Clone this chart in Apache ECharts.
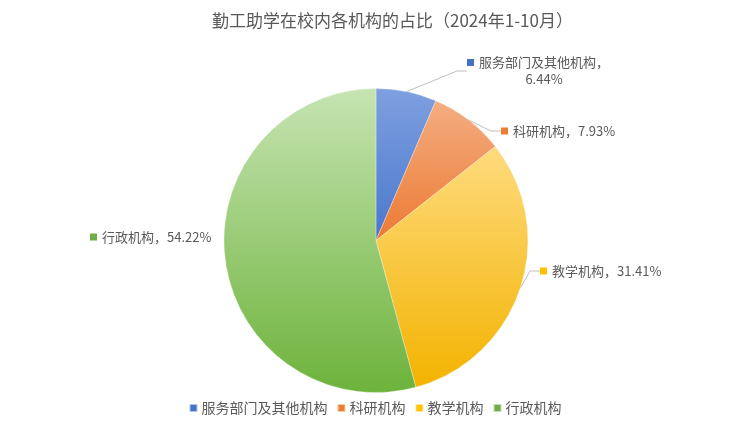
<!DOCTYPE html>
<html>
<head>
<meta charset="utf-8">
<script src="https://cdn.jsdelivr.net/npm/echarts@6/dist/echarts.min.js"></script>
<style>html,body{margin:0;padding:0;background:#fff}#c{width:750px;height:422px}</style>
</head>
<body>
<div id="c"></div>
<script>
const titleText = '勤工助学在校内各机构的占比（2024年1-10月）';
const categories = ['服务部门及其他机构', '科研机构', '教学机构', '行政机构'];
const shares = [6.44, 7.93, 31.41, 54.22];

const solidColors = ['#4472c4', '#ed7d31', '#ffc000', '#70ad47'];
const gradTop = ['#7fa0e0', '#f4ad82', '#fedb7e', '#c6e4b2'];
const gradBottom = ['#4a77cc', '#ec7a32', '#f3b300', '#6db33b'];
const labelPlace = [
  { x: 538, y: 71, align: 'center' },
  { x: 501, y: 131, align: 'left' },
  { x: 540, y: 271, align: 'left' },
  { x: 90, y: 237, align: 'left' }
];
const font = '"Noto Sans CJK SC", "Microsoft YaHei", sans-serif';
const textColor = '#595959';

const rich = { t: { fontSize: 13, color: textColor, fontFamily: font, lineHeight: 17 }, e: { width: 12, height: 7 } };
solidColors.forEach((c, i) => {
  rich['s' + i] = { width: 7, height: 7, backgroundColor: c, borderColor: c };
  rich['g' + i] = { width: 5, height: 7 };
});

const data = categories.map((name, i) => ({
  name,
  value: shares[i],
  itemStyle: {
    color: new echarts.graphic.LinearGradient(0, 0, 0, 1, [
      { offset: 0, color: gradTop[i] },
      { offset: 1, color: gradBottom[i] }
    ])
  },
  labelLine: { show: i !== 3 }
}));

const chart = echarts.init(document.getElementById('c'), null, { renderer: 'canvas' });
chart.setOption({
  backgroundColor: '#ffffff',
  animation: false,
  title: {
    text: titleText,
    left: 207,
    top: 7,
    textStyle: { fontSize: 17, fontWeight: 'normal', color: textColor, fontFamily: font }
  },
  legend: {
    bottom: 2,
    left: 'center',
    itemWidth: 8,
    itemHeight: 8,
    itemGap: 9,
    icon: 'rect',
    data: categories.map((n, i) => ({ name: n, itemStyle: { color: solidColors[i] } })),
    textStyle: { fontSize: 14, color: textColor, fontFamily: font, padding: [0, 0, 0, -1] }
  },
  series: [{
    type: 'pie',
    center: ['50.13%', '57%'],
    radius: 152,
    startAngle: 90,
    clockwise: true,
    data,
    itemStyle: { borderColor: 'rgba(255,255,255,0.6)', borderWidth: 0.5 },
    label: {
      show: true,
      position: 'outside',
      formatter: p => {
        const i = p.dataIndex;
        const v = p.value.toFixed(2) + '%';
        if (i === 0) return '{s0|}{g0|}{t|' + p.name + '，}\n{e|}{t|' + v + '}';
        return '{s' + i + '|}{g' + i + '|}{t|' + p.name + '，' + v + '}';
      },
      rich
    },
    labelLine: { show: true, length: 10, length2: 10, lineStyle: { color: '#bfbfbf', width: 1 } },
    labelLayout: p => {
      const lp = labelPlace[p.dataIndex];
      return { x: lp.x, y: lp.y, align: lp.align, verticalAlign: 'middle' };
    },
    emphasis: { disabled: true }
  }]
});
</script>
</body>
</html>
